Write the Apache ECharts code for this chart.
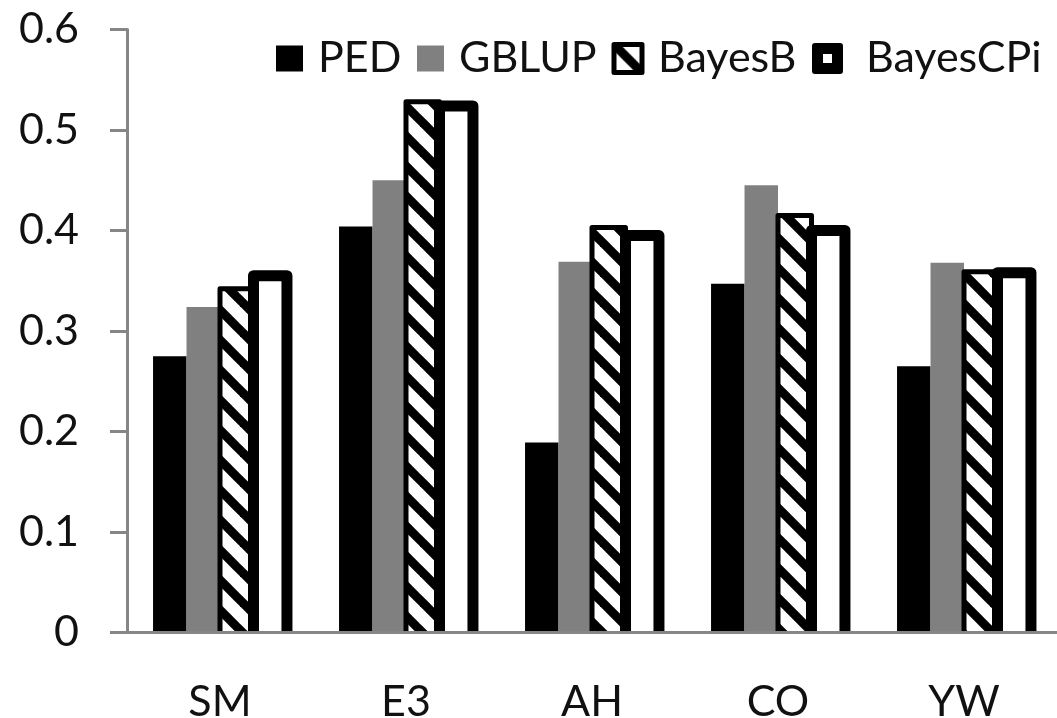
<!DOCTYPE html>
<html><head><meta charset="utf-8">
<script src="https://cdn.jsdelivr.net/npm/echarts@6/dist/echarts.min.js"></script>
<style>html,body{margin:0;padding:0;background:#fff}#c{width:1057px;height:718px}</style>
</head><body><div id="c"></div>
<script>
const categories = ['SM', 'E3', 'AH', 'CO', 'YW'];
const pedValues = [0.275, 0.404, 0.189, 0.347, 0.265];
const gblupValues = [0.324, 0.450, 0.369, 0.445, 0.368];
const bayesBValues = [0.342, 0.528, 0.403, 0.415, 0.359];
const bayesCPiValues = [0.355, 0.524, 0.395, 0.400, 0.358];
const yTickLabels = ['0', '0.1', '0.2', '0.3', '0.4', '0.5', '0.6'];

function hatch() {
  const s = 30, c = document.createElement('canvas');
  c.width = s; c.height = s;
  const g = c.getContext('2d');
  g.fillStyle = '#fff'; g.fillRect(0, 0, s, s);
  g.strokeStyle = '#000'; g.lineWidth = 9;
  for (const x0 of [-s, 0, s]) {
    g.beginPath(); g.moveTo(x0 - 6, -6); g.lineTo(x0 + s + 6, s + 6); g.stroke();
  }
  return c;
}
const hatchFill = { image: hatch(), repeat: 'repeat' };
const FONT = 'Lato';
const txt = { fontFamily: FONT, fontSize: 43, color: '#111' };
const GAP = 0.28;

const seriesDefs = [
  { name: 'PED', values: pedValues, fill: '#000', bw: 0 },
  { name: 'GBLUP', values: gblupValues, fill: '#808080', bw: 0 },
  { name: 'BayesB', values: bayesBValues, fill: hatchFill, bw: 5 },
  { name: 'BayesCPi', values: bayesCPiValues, fill: '#fff', bw: 11 }
];

function renderer(idx, fill, bw) {
  return function (params, api) {
    const ci = api.value(0), v = api.value(1);
    const top = api.coord([ci, v]);
    const base = api.coord([ci, 0]);
    const band = api.size([1, 0])[0];
    const groupW = band * (1 - GAP);
    const barW = groupW / seriesDefs.length;
    const x = top[0] - groupW / 2 + idx * barW;
    return {
      type: 'rect', z2: idx,
      shape: { x: x, y: top[1], width: barW, height: base[1] - top[1] + (bw ? bw : 0) },
      style: { fill: fill, stroke: bw ? '#000' : null, lineWidth: bw, lineJoin: 'round' }
    };
  };
}

function leg(name, left, w, h, extra, pad) {
  return Object.assign({
    data: [name], left: left, top: 37, padding: 0, icon: 'rect',
    itemWidth: w, itemHeight: h,
    textStyle: Object.assign({}, txt, { lineHeight: 43, padding: [0, 0, 0, pad] }),
    selectedMode: false
  }, extra);
}

const ringPath = 'path://M3,0H28Q31,0 31,3V28Q31,31 28,31H3Q0,31 0,28V3Q0,0 3,0Z M11,11V20H20V11Z';

const chart = echarts.init(document.getElementById('c'), null, { renderer: 'canvas' });
chart.setOption({
  animation: false,
  backgroundColor: '#fff',
  grid: { left: 127, right: 0, top: 29.5, bottom: 85.5, containLabel: false, outerBoundsMode: 'none' },
  legend: [
    leg('PED', 276, 27, 26, { itemStyle: { borderWidth: 0 } }, 10),
    leg('GBLUP', 417, 27, 26, { itemStyle: { borderWidth: 0 } }, 10),
    leg('BayesB', 611.5, 28, 28, { itemStyle: { borderWidth: 5, borderColor: '#000', borderJoin: 'round' } }, 11),
    leg('BayesCPi', 812, 31, 31, { icon: ringPath, itemStyle: { color: '#000', borderWidth: 0 } }, 18)
  ],
  xAxis: {
    type: 'category', data: categories, z: 5,
    axisLine: { lineStyle: { color: '#868686', width: 3 } },
    axisTick: { length: 16, lineStyle: { color: '#868686', width: 3 } },
    axisLabel: Object.assign({}, txt, { margin: 48 })
  },
  yAxis: {
    type: 'value', min: 0, max: 0.6, interval: 0.1, z: 5,
    splitLine: { show: false },
    axisLine: { show: true, lineStyle: { color: '#868686', width: 3 } },
    axisTick: { show: true, length: 17, lineStyle: { color: '#868686', width: 3 } },
    axisLabel: Object.assign({}, txt, { margin: 48, formatter: (v, i) => yTickLabels[i] })
  },
  series: seriesDefs.map((d, idx) => ({
    name: d.name, type: 'custom', clip: true,
    itemStyle: { color: d.fill },
    encode: { x: 0, y: 1 },
    data: d.values.map((v, i) => [i, v]),
    renderItem: renderer(idx, d.fill, d.bw)
  }))
});
</script></body></html>
